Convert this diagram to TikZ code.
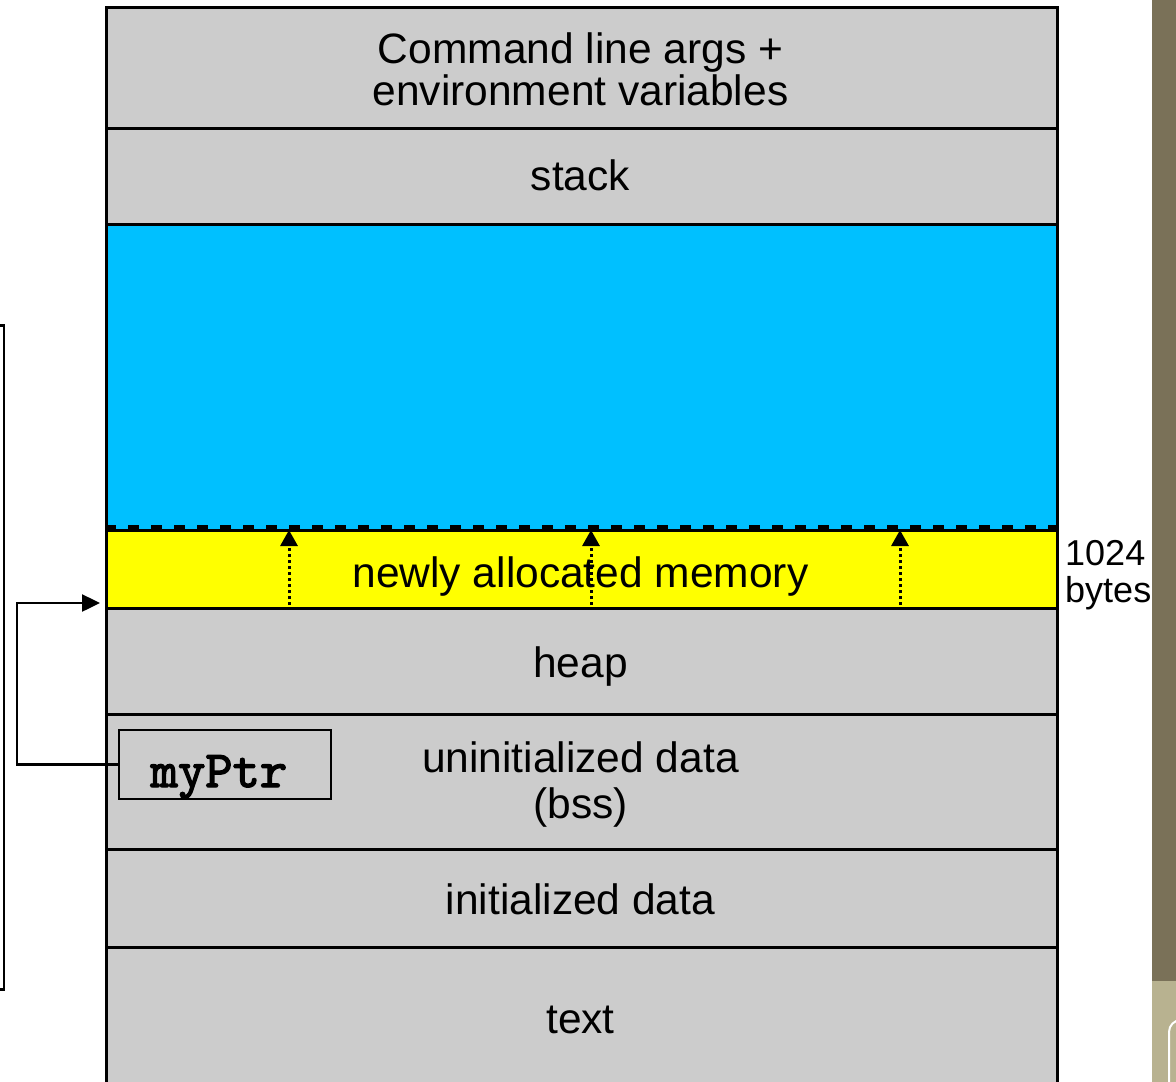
\documentclass[tikz,border=0pt]{standalone}
\usepackage{fontspec}
\setmainfont{Liberation Sans}
\newfontfamily\ptrfont{lmmono10-regular.otf}[FakeBold=2.5]
\usetikzlibrary{arrows.meta}

\definecolor{segGrey}{RGB}{204,204,204}
\definecolor{freeBlue}{RGB}{0,192,255}
\definecolor{newYellow}{RGB}{255,255,0}
\definecolor{barDark}{RGB}{122,113,88}
\definecolor{barLight}{RGB}{184,178,144}

\begin{document}
\begin{tikzpicture}[x=1pt,y=-1pt,
  seg/.style={rectangle, draw=black, line width=2.5pt, fill=segGrey, inner sep=0pt,
              anchor=north west, minimum width=951pt},
  segtext/.style={font=\fontsize{42.5}{44}\selectfont, anchor=base, inner sep=0pt},
  sidetext/.style={font=\fontsize{36}{37}\selectfont, anchor=base west, inner sep=0pt},
  growth/.style={line width=3pt, dash pattern=on 3pt off 3pt,
                 -{Triangle[length=16pt,width=17pt]}},
  ptr/.style={line width=2.5pt, -{Triangle[length=18pt,width=17pt]}},
]
\useasboundingbox (0,0) rectangle (1176,1082);
\clip (0,0) rectangle (1176,1082);

% side bar
\fill[barDark] (1152,0) rectangle (1176,981);
\fill[barLight] (1152,981) rectangle (1176,1082);
\draw[white, line width=2pt, rounded corners=12pt] (1169,1090) -- (1169,1020) -- (1200,1020);

% enclosing frame on the left
\node[rectangle, draw=black, line width=2.5pt, inner sep=0pt, anchor=north east,
      minimum width=305pt, minimum height=664pt] (frame) at (5,324) {};

% memory layout, top to bottom
\node[seg, minimum height=121pt] (args) at (105,6) {};
\node[seg, minimum height=96pt]  (stk)  at (105,127) {};
\node[seg, fill=freeBlue, minimum height=306pt] (free) at (105,223) {};
\node[seg, fill=newYellow, line width=3pt, minimum height=78pt] (new) at (105,529) {};
\node[seg, minimum height=106pt] (heap) at (105,607) {};
\node[seg, minimum height=135pt] (bss)  at (105,713) {};
\node[seg, minimum height=98pt]  (init) at (105,848) {};
\node[seg, minimum height=160pt] (txt)  at (105,946) {};

% boundary of the newly allocated block
\draw[line width=5pt, dash pattern=on 11pt off 12pt] (free.south west) ++(0,-4) -- ++(951,0);

% labels
\node[segtext] (argsA) at (580.5,63)  {Command line args +};
\node[segtext] (argsB) at (580.5,105) {environment variables};
\node[segtext] (stkL)  at (580.5,190) {stack};
\node[segtext] (newL)  at (580.5,587) {newly allocated memory};
\node[segtext] (heapL) at (580.5,677) {heap};
\node[segtext] (bssA)  at (580.5,772) {uninitialized data};
\node[segtext] (bssB)  at (580.5,818) {(bss)};
\node[segtext] (initL) at (580.5,914) {initialized data};
\node[segtext] (txtL)  at (580.5,1033) {text};

% growth arrows inside the new block
\coordinate (g1b) at (289,605); \coordinate (g1t) at (289,530);
\coordinate (g2b) at (591,605); \coordinate (g2t) at (591,530);
\coordinate (g3b) at (900,605); \coordinate (g3t) at (900,530);
\draw[growth] (g1b) -- (g1t);
\draw[growth] (g2b) -- (g2t);
\draw[growth] (g3b) -- (g3t);

% size note
\node[sidetext] (sizeA) at (1065,565) {1024};
\node[sidetext] (sizeB) at (1065,602) {bytes};

% pointer variable and its link to the block
\node[rectangle, draw=black, line width=2pt, fill=segGrey, anchor=north west, inner sep=0pt,
      minimum width=212pt, minimum height=69pt] (myptr) at (118,729) {};
\node[anchor=base, inner sep=0pt, font=\fontsize{52}{52}\selectfont\ptrfont]
      (myptrL) at (219,787) {myPtr};
\coordinate (ptrTarget) at (100,603);
\draw[ptr] (myptr.west) -- ++(-101,0) |- (ptrTarget);
\end{tikzpicture}
\end{document}
